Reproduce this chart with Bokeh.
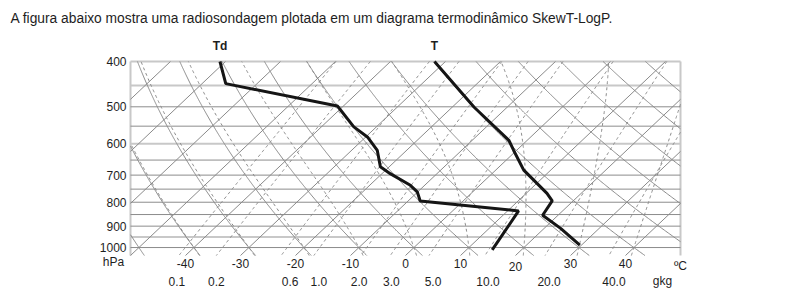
import numpy as np
from bokeh.plotting import figure
from bokeh.models import Range1d
from bokeh.core.properties import value
from bokeh.embed import file_html
from bokeh.resources import INLINE

# ---------------- data ----------------
title_text = "A figura abaixo mostra uma radiosondagem plotada em um diagrama termodinâmico SkewT-LogP."

# sounding: temperature profile (hPa, degC)
temp_pres = [400, 501, 590, 620, 683, 766, 795, 853, 910, 988]
temp_vals = [-32.0, -16.0, -3.3, -0.5, 5.1, 13.8, 16.2, 17.2, 23.0, 29.7]
# sounding: dew point profile (hPa, degC)
dew_pres = [400, 446, 498, 552, 580, 620, 672, 695, 736, 760, 795, 835, 1012]
dew_vals = [-71.0, -65.7, -41.1, -34.1, -29.7, -25.3, -21.6, -18.5, -12.6, -10.1, -7.8, 12.0, 14.7]

pres_ticks = [400, 500, 600, 700, 800, 900, 1000]
pres_tick_labels = ["400", "500", "600", "700", "800", "900", "1000"]
temp_ticks = [-40, -30, -20, -10, 0, 10, 20, 30, 40]
temp_tick_labels = ["-40", "-30", "-20", "-10", "0", "10", "20", "30", "40"]
unit_temp = "ºC"
unit_mix = "gkg"
unit_pres = "hPa"

isobars_dark = [500, 550, 650, 700, 750, 800, 850, 900, 1000]
isobars_light = [400, 450, 600, 950]
isotherms = list(range(-90, 60, 10))          # degC
dry_adiabats = list(range(-50, 110, 10))      # potential temperature, degC
moist_adiabats = [-40, -30, -20, -10, 0, 10, 20, 30, 40]   # wet-bulb pot. temp, degC
mixing_ratios = [0.1, 0.2, 0.6, 1.0, 2.0, 3.0, 5.0, 10.0, 20.0, 40.0]   # g/kg
mixing_labels = ["0.1", "0.2", "0.6", "1.0", "2.0", "3.0", "5.0", "10.0", "20.0", "40.0"]

# ---------------- layout / style ----------------
W, H = 797, 298
FR_L, FR_R, FR_T, FR_B = 130, 680, 61, 255      # diagram box in pixels
P_TOP, P_BOT = 400.0, 1040.0
X_MIN, X_MAX = -50.0, 50.0
SKEW = 39.0
FONT = "Liberation Sans"
TXT = "#1e1e1e"
GRID = "#8a8a8a"
temp_label_dy = [3, 3, 3, 3, 3, 3, 6, 3, 3, 3]
mix_label_dx = [-2, 0, 9, 5, -2, 1, 4, 3, 4, 5]

xpp = (X_MAX - X_MIN) / (FR_R - FR_L)
lpp = np.log(P_BOT / P_TOP) / (FR_B - FR_T)
x_start = X_MIN - FR_L * xpp
x_end = X_MAX + (W - FR_R) * xpp
p_low_edge = P_BOT * np.exp((H - FR_B) * lpp)
p_top_edge = P_TOP * np.exp(-FR_T * lpp)


def skew_x(t, p):
    return np.asarray(t, dtype=float) + SKEW * np.log(P_BOT / np.asarray(p, dtype=float))


def sat_vp(t_c):
    return 6.112 * np.exp(17.67 * t_c / (t_c + 243.5))


def dewpoint_from_mr(w_gkg, p):
    e = w_gkg * p / (622.0 + w_gkg)
    a = np.log(e / 6.112)
    return 243.5 * a / (17.67 - a)


def moist_rate(t_c, p):
    tk = t_c + 273.15
    es = sat_vp(t_c)
    rs = 0.622 * es / (p - es)
    lv, rd, cp, eps = 2.501e6, 287.04, 1005.7, 0.622
    return (rd * tk + lv * rs) / (cp + lv * lv * rs * eps / (rd * tk * tk))


def moist_curve(tw):
    def integrate(p_end, n):
        lnp = np.linspace(np.log(1000.0), np.log(p_end), n)
        t = tw
        ts = [t]
        for i in range(n - 1):
            h = lnp[i + 1] - lnp[i]
            p0 = np.exp(lnp[i])
            pm = np.exp(lnp[i] + h / 2)
            p1 = np.exp(lnp[i + 1])
            k1 = moist_rate(t, p0)
            k2 = moist_rate(t + h * k1 / 2, pm)
            k3 = moist_rate(t + h * k2 / 2, pm)
            k4 = moist_rate(t + h * k3, p1)
            t = t + h * (k1 + 2 * k2 + 2 * k3 + k4) / 6
            ts.append(t)
        return np.exp(lnp), np.array(ts)

    p_up, t_up = integrate(P_TOP, 150)
    p_dn, t_dn = integrate(P_BOT, 10)
    return (np.concatenate([p_dn[::-1], p_up[1:]]),
            np.concatenate([t_dn[::-1], t_up[1:]]))


def clip_pieces(xs, ps):
    """Clip a polyline (x, p) to X_MIN..X_MAX; returns list of pieces."""
    xs = np.asarray(xs, dtype=float)
    lp = np.log(np.asarray(ps, dtype=float))
    pieces = []
    cur_x, cur_p = [], []
    for i in range(len(xs) - 1):
        x0, x1, l0, l1 = xs[i], xs[i + 1], lp[i], lp[i + 1]
        dx = x1 - x0
        t0, t1 = 0.0, 1.0
        if dx == 0:
            if x0 < X_MIN or x0 > X_MAX:
                t0, t1 = 1.0, 0.0
        else:
            ta, tb = (X_MIN - x0) / dx, (X_MAX - x0) / dx
            t0 = max(t0, min(ta, tb))
            t1 = min(t1, max(ta, tb))
        if t0 >= t1:
            if cur_x:
                pieces.append((cur_x, cur_p))
                cur_x, cur_p = [], []
            continue
        ax, ap = x0 + t0 * dx, float(np.exp(l0 + t0 * (l1 - l0)))
        bx, bp = x0 + t1 * dx, float(np.exp(l0 + t1 * (l1 - l0)))
        if cur_x and t0 == 0.0:
            cur_x.append(bx)
            cur_p.append(bp)
        else:
            if cur_x:
                pieces.append((cur_x, cur_p))
            cur_x, cur_p = [ax, bx], [ap, bp]
        if t1 < 1.0:
            pieces.append((cur_x, cur_p))
            cur_x, cur_p = [], []
    if cur_x:
        pieces.append((cur_x, cur_p))
    return pieces


def add_pieces(store_x, store_y, xs, ps):
    for px_, pp_ in clip_pieces(xs, ps):
        store_x.append([float(v) for v in px_])
        store_y.append([float(v) for v in pp_])


p = figure(width=W, height=H,
           x_range=Range1d(x_start, x_end), y_range=Range1d(p_low_edge, p_top_edge),
           y_axis_type="log", x_axis_location=None, y_axis_location=None,
           output_backend="svg", toolbar_location=None, min_border=0)
p.xgrid.visible = False
p.ygrid.visible = False
p.outline_line_color = None
p.background_fill_color = "white"
p.border_fill_color = "white"

# light isobars and frame sides
p.multi_line(xs=[[X_MIN, X_MAX] for _ in isobars_light], ys=[[v, v] for v in isobars_light],
             line_color="#c8c8c8", line_width=2)
p.multi_line(xs=[[X_MIN, X_MIN], [X_MAX, X_MAX]], ys=[[P_BOT, P_TOP], [P_BOT, P_TOP]],
             line_color="#c8c8c8", line_width=2)
# dark isobars
p.multi_line(xs=[[X_MIN, X_MAX] for _ in isobars_dark], ys=[[v, v] for v in isobars_dark],
             line_color="#8c8c8c", line_width=1)

pp = np.geomspace(P_TOP, P_BOT, 200)

# isotherms and dry adiabats (solid)
sx, sy = [], []
for t in isotherms:
    add_pieces(sx, sy, skew_x([t, t], [P_BOT, P_TOP]), [P_BOT, P_TOP])
for th in dry_adiabats:
    t = (th + 273.15) * (pp / 1000.0) ** 0.2857 - 273.15
    add_pieces(sx, sy, skew_x(t, pp), pp)
p.multi_line(xs=sx, ys=sy, line_color=GRID, line_width=1)

# moist adiabats and mixing-ratio lines (dashed)
dx_, dy_ = [], []
for tw in moist_adiabats:
    pm, tm = moist_curve(tw)
    add_pieces(dx_, dy_, skew_x(tm, pm), pm)
for w in mixing_ratios:
    add_pieces(dx_, dy_, skew_x(dewpoint_from_mr(w, pp), pp), pp)
p.multi_line(xs=dx_, ys=dy_, line_color=GRID, line_width=1, line_dash="3 3")

# sounding
p.line(skew_x(dew_vals, dew_pres), dew_pres, line_color="#151515", line_width=3)
p.line(skew_x(temp_vals, temp_pres), temp_pres, line_color="#151515", line_width=3)

# ---------------- texts ----------------
common = dict(text_font=value(FONT), text_font_size=value("12px"), text_color=TXT)

p.text(x=[X_MIN] * len(pres_ticks), y=pres_ticks, text=pres_tick_labels, x_offset=-4,
       text_align="right", text_baseline="middle", **common)
p.text(x=[X_MIN], y=[P_BOT], text=[unit_pres], x_offset=-17, y_offset=6,
       text_align="center", text_baseline="middle", **common)
p.text(x=temp_ticks + [X_MAX], y=[P_BOT] * (len(temp_ticks) + 1),
       text=temp_tick_labels + [unit_temp], y_offset=temp_label_dy,
       text_align="center", text_baseline="top", **common)
mix_pos = [float(dewpoint_from_mr(w, P_BOT)) for w in mixing_ratios]
p.text(x=mix_pos, y=[P_BOT] * len(mix_pos), text=mixing_labels, x_offset=mix_label_dx,
       y_offset=21, text_align="center", text_baseline="top", **common)
p.text(x=[X_MAX], y=[P_BOT], text=[unit_mix], x_offset=-18, y_offset=25,
       text_align="center", text_baseline="middle", **common)

p.text(x=[X_MIN], y=[P_TOP], text=[title_text], x_offset=-120, y_offset=-43,
       text_align="left", text_baseline="middle",
       text_font=value(FONT), text_font_size=value("13.8px"), text_color=TXT)
p.text(x=[float(skew_x(dew_vals[0], dew_pres[0])), float(skew_x(temp_vals[0], temp_pres[0]))],
       y=[dew_pres[0], temp_pres[0]], text=["Td", "T"], y_offset=-16,
       text_align="center", text_baseline="middle", text_font_style="bold", **common)

open("out.html", "w").write(file_html(p, INLINE))
